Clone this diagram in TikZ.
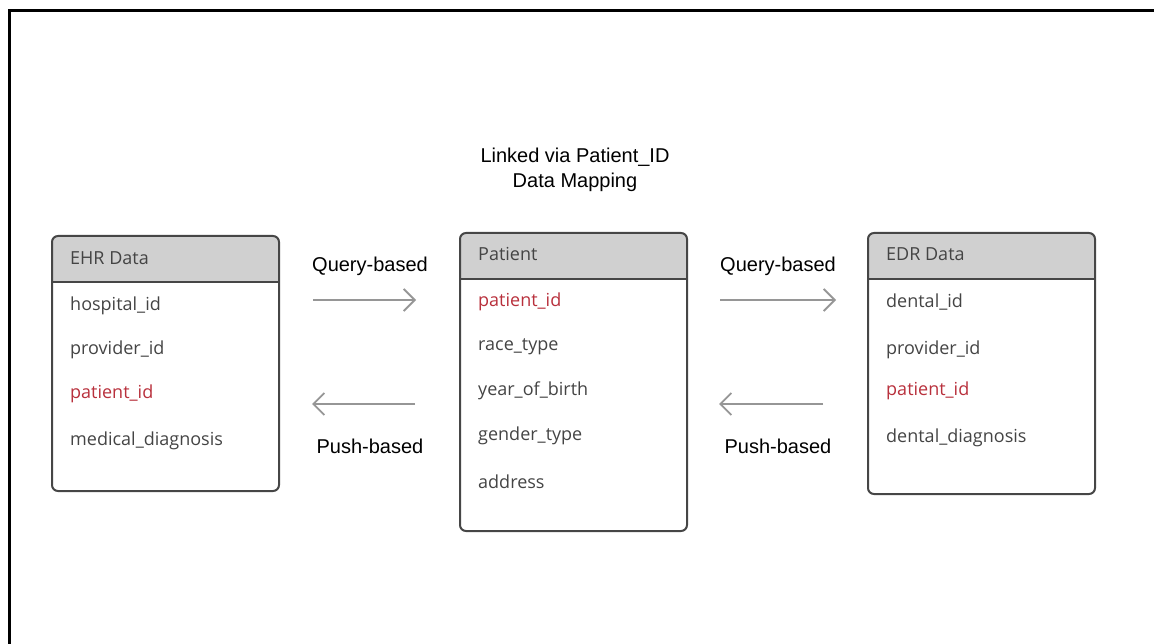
\documentclass[tikz,border=0pt]{standalone}
\usepackage{fontspec}
\setmainfont{Open Sans}
\newfontfamily\labelfont{Liberation Sans}
\usetikzlibrary{arrows.meta,calc}
\definecolor{headgray}{RGB}{208,208,208}
\definecolor{edgegray}{RGB}{70,70,70}
\definecolor{fieldgray}{RGB}{68,68,68}
\definecolor{keyred}{RGB}{184,48,60}
\definecolor{arrowgray}{RGB}{150,150,150}
\tikzstyle{field}=[anchor=west, inner sep=0pt, text=fieldgray, font=\fontsize{18}{21}\selectfont]
\tikzstyle{keyfield}=[field, text=keyred]
\tikzstyle{flowlabel}=[inner sep=0pt, font=\labelfont\fontsize{20}{25}\selectfont]
\tikzstyle{flow}=[draw=arrowgray, line width=1.8pt, -{Straight Barb[length=11pt, width=22pt, line width=1.8pt]}]
% table: name, left, top, right, bottom, header line
\newcommand{\tablebox}[6]{
\begin{scope}
\clip[rounded corners=6pt] (#2,#3) rectangle (#4,#5);
\fill[headgray] (#2,#3) rectangle (#4,#6);
\end{scope}
\draw[edgegray, line width=2pt, rounded corners=6pt] (#2,#3) rectangle (#4,#5);
\draw[edgegray, line width=2pt] (#2,#6) -- (#4,#6);
\coordinate (#1nw) at (#2,#3);
\coordinate (#1se) at (#4,#5);
}
\begin{document}
\begin{tikzpicture}[x=1pt,y=-1pt]
\useasboundingbox (0,0) rectangle (1154,644);
\draw[line width=3pt] (9,644) -- (9,11) -- (1154,11);
% title
\node[flowlabel, align=center] (title) at (575,170) {Linked via Patient\_ID\\Data Mapping};
% EHR table
\tablebox{ehr}{52}{236}{279}{491}{282}
\node[field] (ehrhead) at (70,258) {EHR Data};
\node[field] (ehr1) at (70,306) {hospital\_id};
\node[field] (ehr2) at (70,350) {provider\_id};
\node[keyfield] (ehr3) at (70,394) {patient\_id};
\node[field] (ehr4) at (70,441) {medical\_diagnosis};
% Patient table
\tablebox{pat}{460}{233}{687}{531}{279}
\node[field] (pathead) at (478,254) {Patient};
\node[keyfield] (pat1) at (478,302) {patient\_id};
\node[field] (pat2) at (478,347) {race\_type};
\node[field] (pat3) at (478,391) {year\_of\_birth};
\node[field] (pat4) at (478,436) {gender\_type};
\node[field] (pat5) at (478,482) {address};
% EDR table
\tablebox{edr}{868}{233}{1095}{494}{279}
\node[field] (edrhead) at (886,254) {EDR Data};
\node[field] (edr1) at (886,302) {dental\_id};
\node[field] (edr2) at (886,350) {provider\_id};
\node[keyfield] (edr3) at (886,391) {patient\_id};
\node[field] (edr4) at (886,438) {dental\_diagnosis};
% flows
\coordinate (lq0) at (313,300);
\coordinate (lq1) at (416,300);
\coordinate (lp0) at (415,404);
\coordinate (lp1) at (312,404);
\coordinate (rq0) at (720,300);
\coordinate (rq1) at (836,300);
\coordinate (rp0) at (823,404);
\coordinate (rp1) at (719,404);
\draw[flow] (lq0) -- (lq1);
\draw[flow] (lp0) -- (lp1);
\draw[flow] (rq0) -- (rq1);
\draw[flow] (rp0) -- (rp1);
\node[flowlabel] (lquery) at (370,266) {Query-based};
\node[flowlabel] (lpush) at (370,446) {Push-based};
\node[flowlabel] (rquery) at (778,266) {Query-based};
\node[flowlabel] (rpush) at (778,446) {Push-based};
\end{tikzpicture}
\end{document}
